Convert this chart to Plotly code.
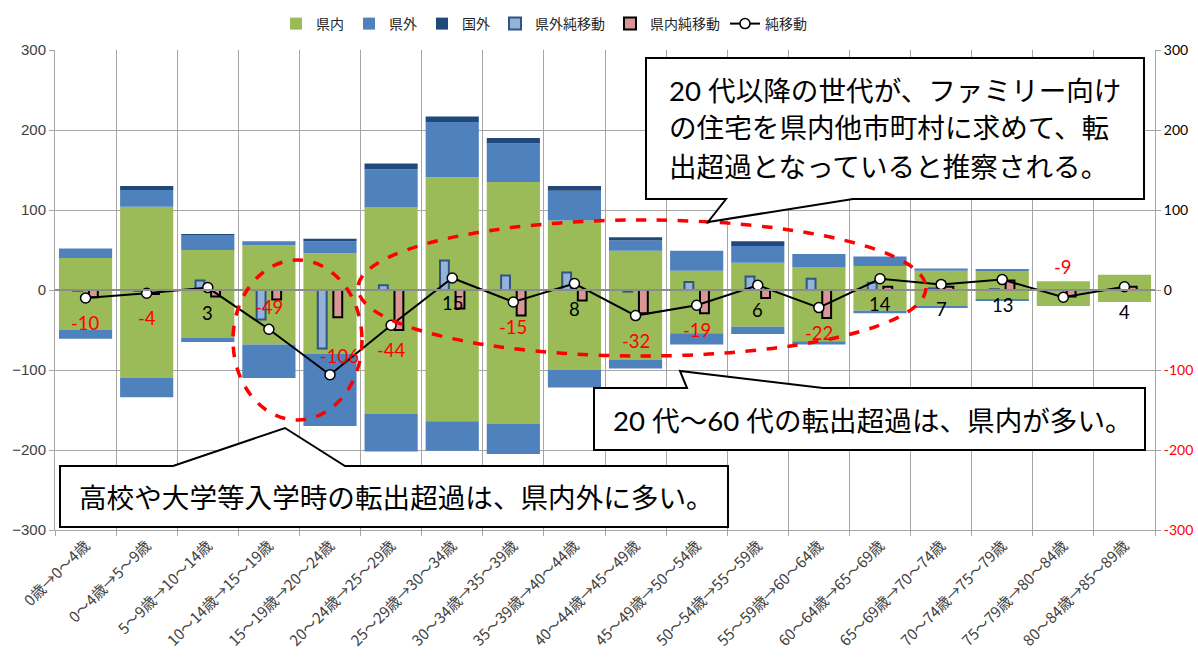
import plotly.graph_objects as go

# Age-cohort transitions (category axis)
categories = [
    "0歳→0～4歳", "0～4歳→5～9歳", "5～9歳→10～14歳", "10～14歳→15～19歳",
    "15～19歳→20～24歳", "20～24歳→25～29歳", "25～29歳→30～34歳", "30～34歳→35～39歳",
    "35～39歳→40～44歳", "40～44歳→45～49歳", "45～49歳→50～54歳", "50～54歳→55～59歳",
    "55～59歳→60～64歳", "60～64歳→65～69歳", "65～69歳→70～74歳", "70～74歳→75～79歳",
    "75～79歳→80～84歳", "80～84歳→85～89歳",
]

# In-migration (positive) and out-migration (negative)
kennai_in = [40, 104, 50, 56, 46, 103, 141, 135, 87, 49, 24, 34, 28, 30, 24, 24, 11, 19]
kennai_out = [-50, -110, -60, -68, -80, -155, -164, -167, -100, -87, -54, -46, -64, -26, -20, -12, -20, -15]
kengai_in = [12, 21, 19, 5, 15, 48, 69, 48, 37, 13, 25, 21, 17, 12, 3, 2, 0, 0]
kengai_out = [-11, -24, -5, -42, -90, -47, -37, -38, -22, -11, -14, -9, -4, -3, -2, -1, 0, 0]
kokugai_in = [0, 5, 1, 0, 3, 7, 7, 7, 6, 4, 0, 6, 0, 0, 0, 0, 0, 0]

# Net migration
kengai_net = [-1, -1, 12, -37, -73, 6, 37, 18, 22, -2, 10, 17, 14, 9, 2, 1, 0, 0]
kennai_net = [-9, -5, -8, -12, -34, -50, -23, -32, -13, -29, -29, -10, -35, 4, 4, 12, -8, 4]
net_total = [-10, -4, 3, -49, -106, -44, 15, -15, 8, -32, -19, 6, -22, 14, 7, 13, -9, 4]

# Axis ticks
y_ticks = [-300, -200, -100, 0, 100, 200, 300]

GREEN = "#9BBB59"
BLUE = "#4F81BD"
NAVY = "#1F497D"
NET_BLUE = "#95B3D7"
NET_PINK = "#D99694"
GRID = "#A6A6A6"
CJK = "Noto Sans CJK JP"

# Plot area in pixels
L, R, T, B = 55, 1155, 50, 530
W, H = R - L, B - T


def px(x):
    return (x - L) / W


def py(y):
    return (B - y) / H


fig = go.Figure()

# Stacked in/out bars
fig.add_trace(go.Bar(x=categories, y=kennai_in, name="県内", marker_color=GREEN,
                     legendgroup="kennai", marker_line_width=0))
fig.add_trace(go.Bar(x=categories, y=kennai_out, name="県内", marker_color=GREEN,
                     legendgroup="kennai", showlegend=False, marker_line_width=0))
fig.add_trace(go.Bar(x=categories, y=kengai_in, name="県外", marker_color=BLUE,
                     legendgroup="kengai", marker_line_width=0))
fig.add_trace(go.Bar(x=categories, y=kengai_out, name="県外", marker_color=BLUE,
                     legendgroup="kengai", showlegend=False, marker_line_width=0))
fig.add_trace(go.Bar(x=categories, y=kokugai_in, name="国外", marker_color=NAVY,
                     marker_line_width=0))

# Narrow net bars on overlaid axes
fig.add_trace(go.Bar(x=categories, y=kengai_net, name="県外純移動", xaxis="x2", yaxis="y2",
                     width=0.145, offset=-0.2,
                     marker=dict(color=NET_BLUE, line=dict(color="#2F5584", width=2))))
fig.add_trace(go.Bar(x=categories, y=kennai_net, name="県内純移動", xaxis="x3", yaxis="y2",
                     width=0.145, offset=0.055,
                     marker=dict(color=NET_PINK, line=dict(color="#000000", width=2))))

# Net migration line
fig.add_trace(go.Scatter(x=categories, y=net_total, name="純移動", xaxis="x3", yaxis="y2",
                         mode="lines+markers",
                         line=dict(color="#000000", width=2),
                         marker=dict(symbol="circle", size=10, color="#FFFFFF",
                                     line=dict(color="#000000", width=1.5))))

# Value labels for the net line
label_yshift = [-25] * len(categories)
label_xshift = [0] * len(categories)
label_yshift[3] = 22
label_yshift[4] = 19
label_xshift[4] = 9
label_yshift[16] = 30
annotations = []
for i, (c, v) in enumerate(zip(categories, net_total)):
    annotations.append(dict(
        x=c, y=v, xref="x", yref="y", text=str(v), showarrow=False,
        yshift=label_yshift[i], xshift=label_xshift[i],
        font=dict(family="Lato, Open Sans, sans-serif", size=18.5,
                  color="#FF0000" if v < 0 else "#000000"),
    ))

shapes = []
# Horizontal axis line through zero, drawn over the bars
shapes.append(dict(type="line", xref="paper", yref="y", x0=0, x1=1, y0=0, y1=0,
                   line=dict(color="#8C8C8C", width=2), layer="above"))

# Dashed highlight ellipses
shapes.append(dict(type="circle", xref="paper", yref="paper",
                   x0=px(233), x1=px(362), y0=py(420), y1=py(260),
                   line=dict(color="#FF0000", width=3.5, dash="dash"), layer="above"))
shapes.append(dict(type="circle", xref="paper", yref="paper",
                   x0=px(358), x1=px(926), y0=py(356), y1=py(220),
                   line=dict(color="#FF0000", width=3.5, dash="dash"), layer="above"))


def callout(points):
    d = "M " + " L ".join(f"{px(x):.5f},{py(y):.5f}" for x, y in points) + " Z"
    return dict(type="path", xref="paper", yref="paper", path=d,
                fillcolor="#FFFFFF", line=dict(color="#000000", width=2), layer="above")


shapes.append(callout([(646, 58), (1144, 58), (1144, 199), (853, 199), (708, 222),
                       (726, 199), (646, 199)]))
shapes.append(callout([(594, 388), (687, 388), (680, 371), (823, 388), (1145, 388),
                       (1145, 450), (594, 450)]))
shapes.append(callout([(60, 466), (173, 466), (285, 428), (345, 466), (728, 466),
                       (728, 527), (60, 527)]))

text_font = dict(family="Lato, " + CJK, size=27.6, color="#000000")
for txt, x, y in [
    ("20 代以降の世代が、ファミリー向け", 667, 90),
    ("の住宅を県内他市町村に求めて、転", 667, 128),
    ("出超過となっていると推察される。", 667, 166),
    ("20 代～60 代の転出超過は、県内が多い。", 611, 420),
    ("高校や大学等入学時の転出超過は、県内外に多い。", 77, 497),
]:
    annotations.append(dict(x=px(x), y=py(y), xref="paper", yref="paper", text=txt,
                            showarrow=False, xanchor="left", yanchor="middle",
                            font=text_font))

right_ticktext = [
    f"<span style='color:#FF0000'>{v}</span>" if v < 0 else str(v) for v in y_ticks
]

fig.update_layout(
    width=1198, height=666,
    margin=dict(l=L, r=1198 - R, t=T, b=666 - B, autoexpand=False),
    paper_bgcolor="#FFFFFF", plot_bgcolor="#FFFFFF",
    barmode="relative", bargap=0.13,
    showlegend=True,
    legend=dict(orientation="h", x=px(276), y=py(8), xanchor="left", yanchor="top",
                font=dict(family=CJK, size=14, color="#262626"),
                traceorder="normal", itemwidth=30, bgcolor="rgba(0,0,0,0)"),
    xaxis=dict(type="category", range=[-0.5, len(categories) - 0.5],
               tickson="boundaries", showgrid=True, gridcolor=GRID, gridwidth=1,
               ticks="outside", ticklen=5, tickcolor=GRID,
               showline=True, linecolor=GRID, linewidth=1,
               tickangle=-45, tickfont=dict(family=CJK, size=15, color="#404040")),
    xaxis2=dict(type="category", overlaying="x", visible=False,
                range=[-0.5, len(categories) - 0.5]),
    xaxis3=dict(type="category", overlaying="x", visible=False,
                range=[-0.5, len(categories) - 0.5]),
    yaxis=dict(range=[-300, 300], tickvals=y_ticks, showgrid=True, gridcolor=GRID,
               gridwidth=1, zeroline=False, showline=True, linecolor=GRID, linewidth=1,
               ticks="outside", ticklen=5, tickcolor=GRID,
               tickfont=dict(family="Liberation Sans, Arial", size=15, color="#404040")),
    yaxis2=dict(range=[-300, 300], overlaying="y", side="right", anchor="x",
                tickvals=y_ticks, ticktext=right_ticktext, showgrid=False, zeroline=False,
                showline=True, linecolor=GRID, linewidth=1, ticks="outside", ticklen=5,
                tickcolor=GRID,
                tickfont=dict(family="Lato, Open Sans", size=14, color="#000000")),
    shapes=shapes,
    annotations=annotations,
)

fig.write_html("out.html")
